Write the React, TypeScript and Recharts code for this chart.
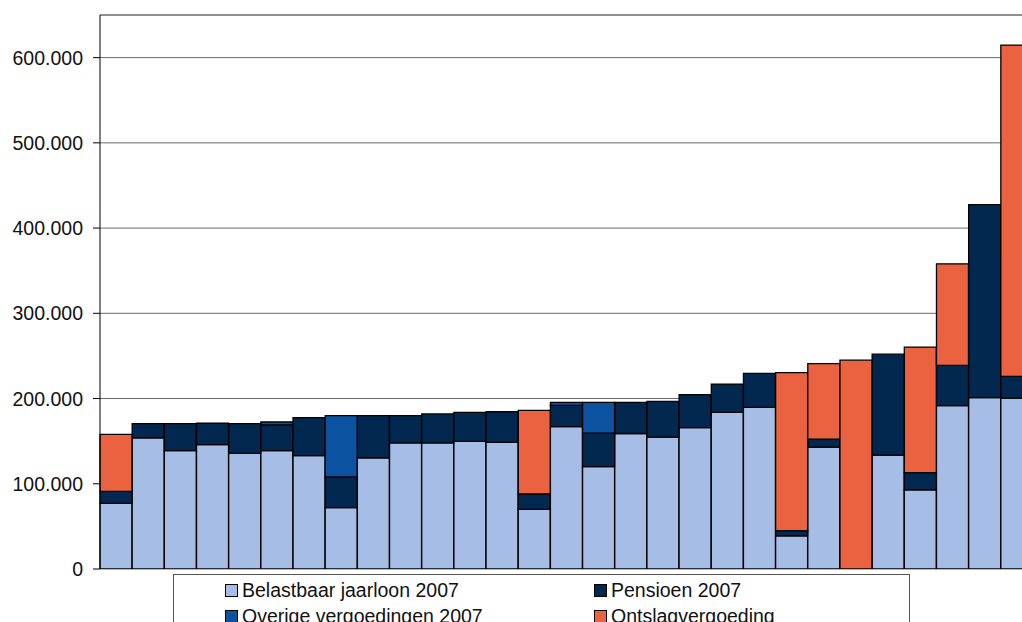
import React from 'react'
import { BarChart, Bar, XAxis, YAxis, CartesianGrid, ReferenceLine } from 'recharts'

// one bar per person, sorted by total
const categories = [
  '1', '2', '3', '4', '5', '6', '7', '8', '9', '10', '11', '12', '13', '14', '15',
  '16', '17', '18', '19', '20', '21', '22', '23', '24', '25', '26', '27', '28', '29',
]
const jaarloon = [
  77000, 154000, 139000, 146000, 135600, 139000, 133000, 72000, 130500, 148000, 148000, 149700,
  148500, 70000, 167000, 120000, 159000, 154700, 165800, 183700, 189600, 39000, 143000, 0,
  133600, 93000, 191600, 201000, 200500,
]
const pensioen = [
  14000, 16500, 31500, 25000, 35000, 30000, 44500, 36000, 49500, 32000, 34000, 34000, 36000,
  18000, 25000, 39400, 36500, 42000, 38700, 33300, 40000, 6000, 9400, 0, 118400, 20000, 47400,
  226600, 25500,
]
const overige = [
  0, 0, 0, 0, 0, 3500, 0, 72000, 0, 0, 0, 0, 0, 0, 3500, 36000, 0, 0, 0, 0, 0, 0, 0, 0, 0, 0,
  0, 0, 0,
]
const ontslag = [
  67000, 0, 0, 0, 0, 0, 0, 0, 0, 0, 0, 0, 0, 98000, 0, 0, 0, 0, 0, 0, 0, 185400, 88600, 245000,
  0, 147400, 119000, 0, 388700,
]
const yTicks = [0, 100000, 200000, 300000, 400000, 500000, 600000]

const seriesNames = {
  jaarloon: 'Belastbaar jaarloon 2007',
  pensioen: 'Pensioen 2007',
  overige: 'Overige vergoedingen 2007',
  ontslag: 'Ontslagvergoeding',
}
const colors = {
  jaarloon: '#a6bee5',
  pensioen: '#03284f',
  overige: '#0b52a0',
  ontslag: '#eb6241',
}

const data = categories.map((name, i) => ({
  name,
  jaarloon: jaarloon[i],
  pensioen: pensioen[i],
  overige: overige[i],
  ontslag: ontslag[i],
}))

const FONT = '"Liberation Sans", Arial, sans-serif'
const FONT_SIZE = 19.5

// dutch thousands separator
const fmt = (v: number) => String(v).replace(/\B(?=(\d{3})+(?!\d))/g, '.')

const YTick = (props: any) => {
  const { y, payload } = props
  return (
    <text x={83} y={y} dy="0.36em" textAnchor="end" fontSize={FONT_SIZE} fontFamily={FONT} fill="#111">
      {fmt(payload.value)}
    </text>
  )
}

// legend sits under the plot and is cut off by the bottom edge, like the original
const legendItems: { key: keyof typeof colors; x: number; y: number }[] = [
  { key: 'jaarloon', x: 225, y: 597 },
  { key: 'pensioen', x: 594, y: 597 },
  { key: 'overige', x: 225, y: 623 },
  { key: 'ontslag', x: 594, y: 623 },
]

export default function App() {
  return (
    <div
      style={{
        position: 'fixed',
        left: 0,
        top: 0,
        width: 1022,
        height: 622,
        overflow: 'hidden',
        background: '#fff',
      }}
    >
      <BarChart
        width={1040}
        height={622}
        data={data}
        margin={{ top: 15, right: 7, left: 0, bottom: 53 }}
        barCategoryGap={0}
        barGap={0}
      >
        <CartesianGrid vertical={false} stroke="#6a6a6a" strokeWidth={1} />
        <ReferenceLine y={650000} stroke="#6a6a6a" ifOverflow="extendDomain" />
        <XAxis
          dataKey="name"
          height={0}
          tick={false}
          tickLine={false}
          axisLine={{ stroke: '#000', strokeWidth: 1.2 }}
        />
        <YAxis
          width={100}
          domain={[0, 650000]}
          ticks={yTicks}
          interval={0}
          tickSize={7}
          tickLine={{ stroke: '#000' }}
          axisLine={{ stroke: '#000' }}
          tick={<YTick />}
          allowDataOverflow
        />
        <Bar dataKey="jaarloon" stackId="a" fill={colors.jaarloon} stroke="#000" strokeWidth={1.3} isAnimationActive={false} />
        <Bar dataKey="pensioen" stackId="a" fill={colors.pensioen} stroke="#000" strokeWidth={1.3} isAnimationActive={false} />
        <Bar dataKey="overige" stackId="a" fill={colors.overige} stroke="#000" strokeWidth={1.3} isAnimationActive={false} />
        <Bar dataKey="ontslag" stackId="a" fill={colors.ontslag} stroke="#000" strokeWidth={1.3} isAnimationActive={false} />
      </BarChart>

      <svg
        width={1022}
        height={622}
        style={{ position: 'absolute', left: 0, top: 0, pointerEvents: 'none' }}
      >
        <rect x={173.5} y={574.5} width={736} height={70} fill="#fff" stroke="#555" />
        {legendItems.map((it) => (
          <g key={it.key}>
            <rect x={it.x + 0.5} y={it.y - 12.5} width={12} height={12} fill={colors[it.key]} stroke="#000" />
            <text x={it.x + 17} y={it.y} fontSize={FONT_SIZE} fontFamily={FONT} fill="#111">
              {seriesNames[it.key]}
            </text>
          </g>
        ))}
      </svg>
    </div>
  )
}
